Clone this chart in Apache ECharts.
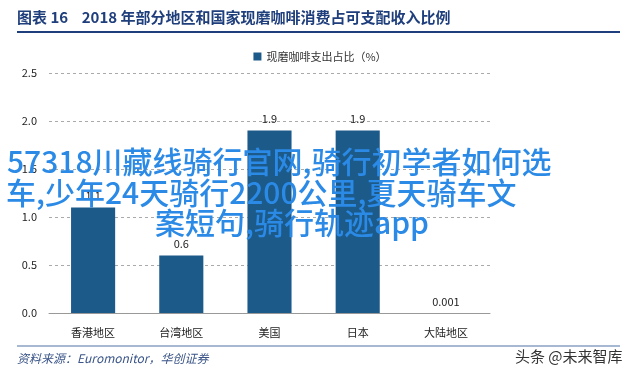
<!DOCTYPE html>
<html lang="zh" style="height: 100%">
<head>
<meta charset="utf-8">
<title>现磨咖啡消费占可支配收入比例</title>
</head>
<body style="height: 100%; margin: 0; background: #fff">
<div id="container" style="width: 640px; height: 377px"></div>
<script type="text/javascript" src="https://cdn.jsdelivr.net/npm/echarts@6/dist/echarts.min.js"></script>
<script type="text/javascript">
var categories = ['香港地区', '台湾地区', '美国', '日本', '大陆地区'];
var values = [1.1, 0.6, 1.9, 1.9, 0.001];
var valueLabels = ['1.1', '0.6', '1.9', '1.9', '0.001'];
var yTicks = [0, 0.5, 1.0, 1.5, 2.0, 2.5];

var titleText = '图表 16    2018 年部分地区和国家现磨咖啡消费占可支配收入比例';
var seriesName = '现磨咖啡支出占比（%）';
var sourceText = '资料来源：Euromonitor，华创证券';
var overlayLines = [
    '57318川藏线骑行官网,骑行初学者如何选',
    '车,少年24天骑行2200公里,夏天骑车文',
    '案短句,骑行轨迹app'
];
var overlayStarts = [7, 6, 155];

var dom = document.getElementById('container');
var myChart = echarts.init(dom);

var graphics = [
    {
        type: 'text', left: 17, top: 10,
        style: {
            text: titleText,
            fill: '#1f3e7c',
            font: 'bold 15px "Noto Sans CJK SC", serif'
        }
    },
    {
        type: 'line', shape: { x1: 17, y1: 32, x2: 620, y2: 32 },
        style: { stroke: '#1f3e7c', lineWidth: 2 }
    },
    {
        type: 'line', shape: { x1: 17, y1: 346, x2: 620, y2: 346 },
        style: { stroke: '#8aa0c4', lineWidth: 1.5 }
    },
    {
        type: 'text', left: 17, top: 352,
        style: {
            text: sourceText,
            fill: '#3a5488',
            font: 'italic 12px "Noto Sans CJK SC", serif'
        }
    },
    {
        type: 'text', left: 515, top: 349,
        style: {
            text: '头条 @未来智库',
            fill: '#333',
            font: '15px "Noto Sans CJK SC", sans-serif'
        }
    }
];
overlayLines.forEach(function (line, i) {
    graphics.push({
        type: 'text', x: overlayStarts[i], y: 162 + i * 30.5, z: 100,
        style: {
            text: line,
            fill: '#2b8ae6',
            align: 'left',
            verticalAlign: 'middle',
            textAlign: 'left',
            textVerticalAlign: 'middle',
            font: '500 30px "Noto Sans CJK SC", sans-serif'
        }
    });
});

var option = {
    animation: false,
    backgroundColor: '#fff',
    textStyle: { fontFamily: '"Noto Sans CJK SC", "Noto Sans", sans-serif' },
    legend: {
        top: 46,
        left: 'center',
        icon: 'rect',
        itemWidth: 8,
        itemHeight: 8,
        itemGap: 4,
        textStyle: { color: '#333', fontSize: 11 },
        data: [seriesName]
    },
    grid: { left: 49, right: 150, top: 73, bottom: 64 },
    xAxis: {
        type: 'category',
        data: categories,
        axisTick: { show: false },
        axisLine: { lineStyle: { color: '#999' } },
        axisLabel: { color: '#222', fontSize: 11, margin: 14 }
    },
    yAxis: {
        type: 'value',
        min: yTicks[0],
        max: yTicks[yTicks.length - 1],
        interval: 0.5,
        axisLine: { show: false },
        axisTick: { show: false },
        axisLabel: {
            color: '#222',
            fontSize: 11,
            margin: 12,
            formatter: function (v) { return v.toFixed(1); }
        },
        splitLine: { lineStyle: { color: '#aaa', type: [3, 3] } }
    },
    series: [{
        name: seriesName,
        type: 'bar',
        data: values,
        barWidth: '50%',
        itemStyle: { color: '#1c5a8a' },
        label: {
            show: true,
            position: 'top',
            distance: 6,
            color: '#222',
            fontSize: 11,
            formatter: function (p) { return valueLabels[p.dataIndex]; }
        }
    }],
    graphic: graphics
};

myChart.setOption(option);
window.addEventListener('resize', myChart.resize);
</script>
</body>
</html>
